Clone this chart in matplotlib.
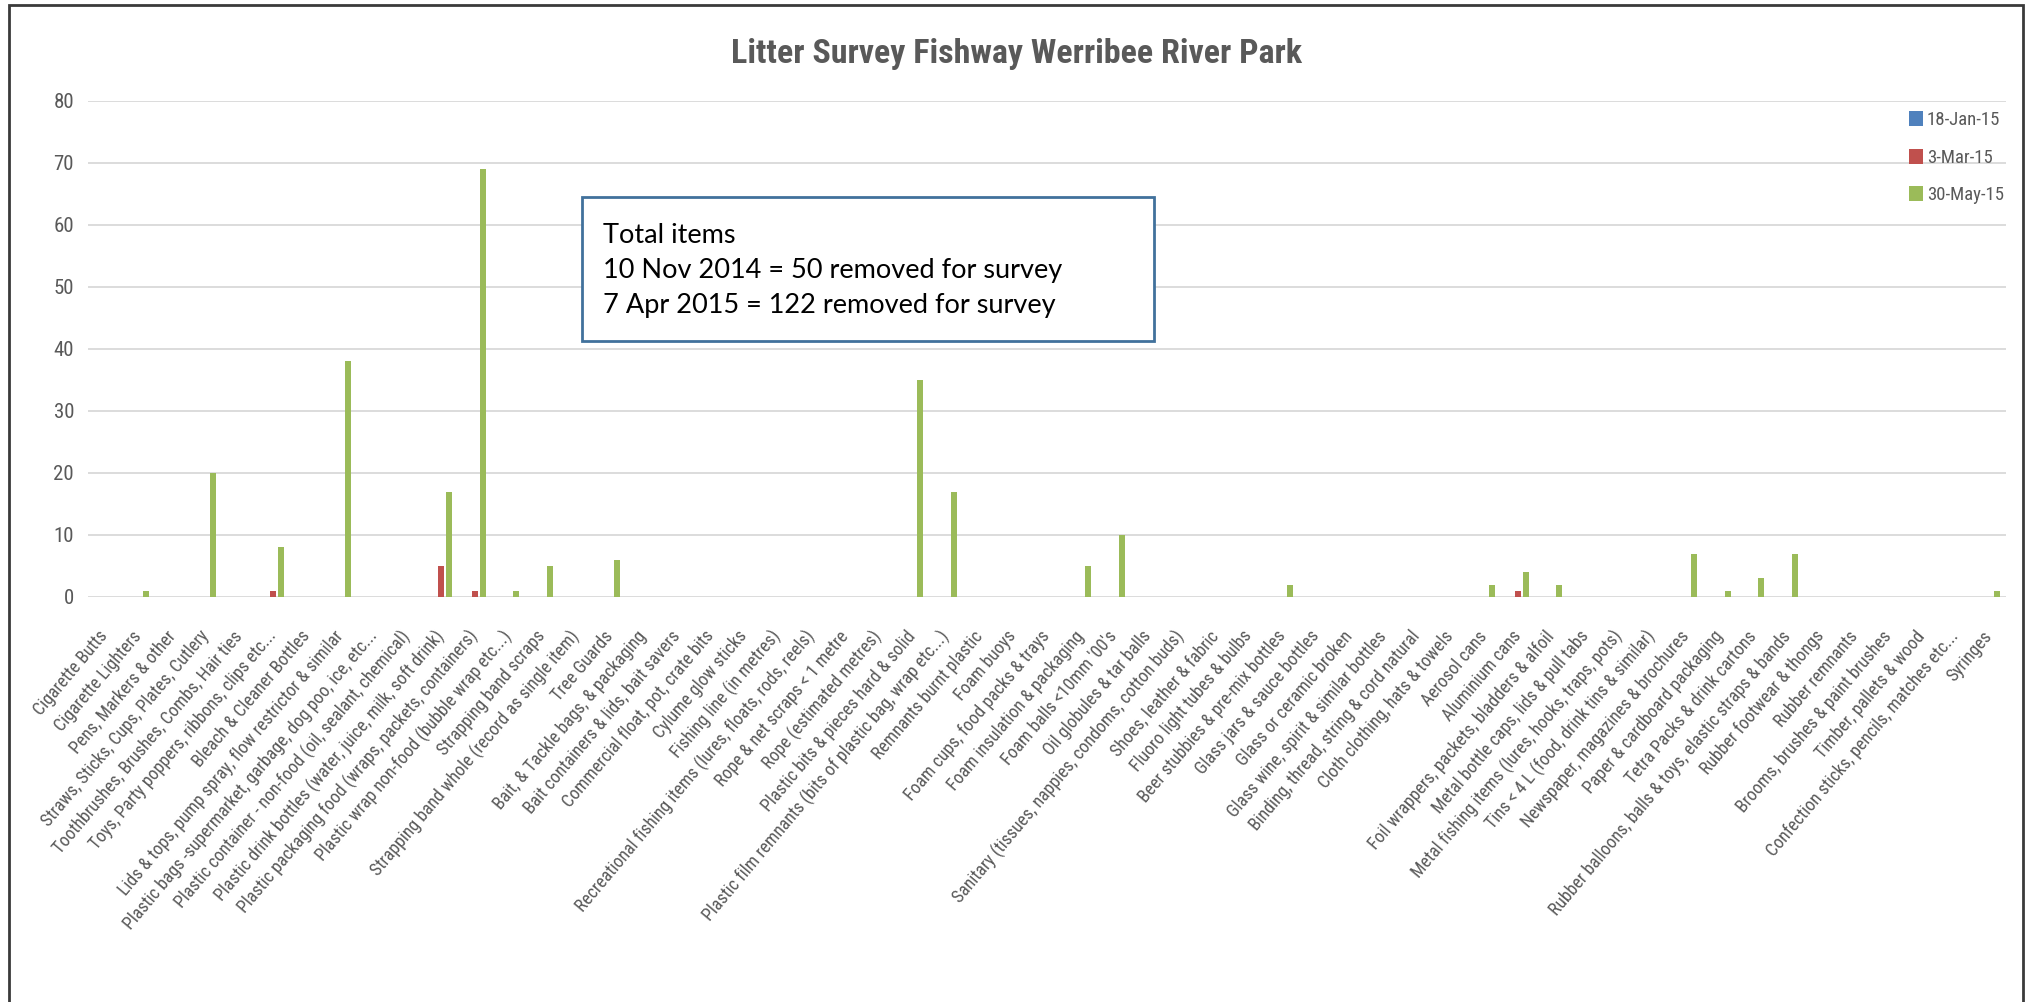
import matplotlib
matplotlib.use("Agg")
import matplotlib.pyplot as plt
import numpy as np
from matplotlib import font_manager as fm
from matplotlib.patches import Rectangle

def pick(*names):
    for n in names:
        try:
            fm.findfont(n, fallback_to_default=False)
            return n
        except Exception:
            pass
    return "DejaVu Sans"

NARROW = pick("Liberation Sans Narrow", "Roboto Condensed", "Lato")
BODY = pick("Lato", "Open Sans", "DejaVu Sans")

categories = [
    "Cigarette Butts",
    "Cigarette Lighters",
    "Pens, Markers & other",
    "Straws, Sticks, Cups, Plates, Cutlery",
    "Toothbrushes, Brushes, Combs, Hair ties",
    "Toys, Party poppers, ribbons, clips etc...",
    "Bleach & Cleaner Bottles",
    "Lids & tops, pump spray, flow restrictor & similar",
    "Plastic bags -supermarket, garbage, dog poo, ice, etc...",
    "Plastic container - non-food (oil, sealant, chemical)",
    "Plastic drink bottles (water, juice, milk, soft drink)",
    "Plastic packaging food (wraps, packets, containers)",
    "Plastic wrap non-food (bubble wrap etc...)",
    "Strapping band scraps",
    "Strapping band whole (record as single item)",
    "Tree Guards",
    "Bait, & Tackle bags, & packaging",
    "Bait containers & lids, bait savers",
    "Commercial float, pot, crate bits",
    "Cylume glow sticks",
    "Fishing line (in metres)",
    "Recreational fishing items (lures, floats, rods, reels)",
    "Rope & net scraps < 1 metre",
    "Rope (estimated metres)",
    "Plastic bits & pieces hard & solid",
    "Plastic film remnants (bits of plastic bag, wrap etc...)",
    "Remnants burnt plastic",
    "Foam buoys",
    "Foam cups, food packs & trays",
    "Foam insulation & packaging",
    "Foam balls <10mm '00's",
    "Oil globules & tar balls",
    "Sanitary (tissues, nappies, condoms, cotton buds)",
    "Shoes, leather & fabric",
    "Fluoro light tubes & bulbs",
    "Beer stubbies & pre-mix bottles",
    "Glass jars & sauce bottles",
    "Glass or ceramic broken",
    "Glass wine, spirit & similar bottles",
    "Binding, thread, string & cord natural",
    "Cloth clothing, hats & towels",
    "Aerosol cans",
    "Aluminium cans",
    "Foil wrappers, packets, bladders & alfoil",
    "Metal bottle caps, lids & pull tabs",
    "Metal fishing items (lures, hooks, traps, pots)",
    "Tins < 4 L (food, drink tins & similar)",
    "Newspaper, magazines & brochures",
    "Paper & cardboard packaging",
    "Tetra Packs & drink cartons",
    "Rubber balloons, balls & toys, elastic straps & bands",
    "Rubber footwear & thongs",
    "Rubber remnants",
    "Brooms, brushes & paint brushes",
    "Timber, pallets & wood",
    "Confection sticks, pencils, matches etc...",
    "Syringes",
]

series_names = ["18-Jan-15", "3-Mar-15", "30-May-15"]

jan_15 = [0] * 57

mar_15 = [0, 0, 0, 0, 0, 1, 0, 0, 0, 0,
          5, 1, 0, 0, 0, 0, 0, 0, 0, 0,
          0, 0, 0, 0, 0, 0, 0, 0, 0, 0,
          0, 0, 0, 0, 0, 0, 0, 0, 0, 0,
          0, 0, 1, 0, 0, 0, 0, 0, 0, 0,
          0, 0, 0, 0, 0, 0, 0]

may_15 = [0, 1, 0, 20, 0, 8, 0, 38, 0, 0,
          17, 69, 1, 5, 0, 6, 0, 0, 0, 0,
          0, 0, 0, 0, 35, 17, 0, 0, 0, 5,
          10, 0, 0, 0, 0, 2, 0, 0, 0, 0,
          0, 2, 4, 2, 0, 0, 0, 7, 1, 3,
          7, 0, 0, 0, 0, 0, 1]

colors = ["#4F81BD", "#C0504D", "#9BBB59"]
y_ticks = [0, 10, 20, 30, 40, 50, 60, 70, 80]

note_lines = ["Total items",
              "10 Nov 2014 = 50 removed for survey",
              "7 Apr 2015 = 122 removed for survey"]

W, H = 2025, 1002
fig = plt.figure(figsize=(W / 100, H / 100), dpi=100)
fig.patch.set_facecolor("white")

def fx(px):
    return px / W

def fy(py):
    return 1 - py / H

ax = fig.add_axes([fx(88), fy(597), fx(2006) - fx(88), fy(101) - fy(597)])

x = np.arange(len(categories))
bw = 0.18
off = 0.225
for i, (vals, name) in enumerate(zip([jan_15, mar_15, may_15], series_names)):
    ax.bar(x + (i - 1) * off, vals, width=bw, color=colors[i], label=name,
           linewidth=0, zorder=3)

ax.set_xlim(-0.5, len(categories) - 0.5)
ax.set_ylim(0, 80)
ax.set_yticks(y_ticks)
ax.grid(axis="y", color="#D9D9D9", linewidth=1.3, zorder=0)
for s in ax.spines.values():
    s.set_visible(False)
ax.tick_params(axis="both", length=0)
ax.tick_params(axis="y", pad=10, labelsize=15, labelcolor="#595959")
ax.set_yticklabels([str(v) for v in y_ticks], fontfamily=NARROW)

ax.set_xticks(x)
ax.set_xticklabels(categories, fontfamily=NARROW, fontsize=12.8, color="#595959",
                   rotation=50, ha="right", va="center", rotation_mode="anchor")
ax.tick_params(axis="x", pad=26)

leg = ax.legend(loc="upper left", bbox_to_anchor=(fx(1909), fy(111)),
                bbox_transform=fig.transFigure, frameon=False,
                prop={"family": NARROW, "size": 13.5},
                handlelength=0.75, handleheight=0.85, handletextpad=0.2,
                labelspacing=1.05, borderpad=0, borderaxespad=0)
for t in leg.get_texts():
    t.set_color("#595959")

fig.text(fx(1017), fy(63), "Litter Survey Fishway Werribee River Park",
         ha="center", va="baseline", fontsize=24.5, fontweight="bold",
         color="#595959", fontfamily=NARROW)

# text box
fig.add_artist(Rectangle((fx(582), fy(341)), fx(1154) - fx(582), fy(197) - fy(341),
                         transform=fig.transFigure, facecolor="white",
                         edgecolor="#41719C", linewidth=2.0, zorder=5))
for line, base in zip(note_lines, [243, 278, 313]):
    fig.text(fx(603), fy(base), line, ha="left", va="baseline", fontsize=19.5,
             color="black", fontfamily=BODY, zorder=6)

# outer border
fig.add_artist(Rectangle((fx(9), fy(1010)), fx(2023) - fx(9), fy(5) - fy(1010),
                         transform=fig.transFigure, facecolor="none",
                         edgecolor="#3A3A3A", linewidth=2.0, clip_on=False))

fig.savefig("out.png", dpi=100, facecolor="white")
